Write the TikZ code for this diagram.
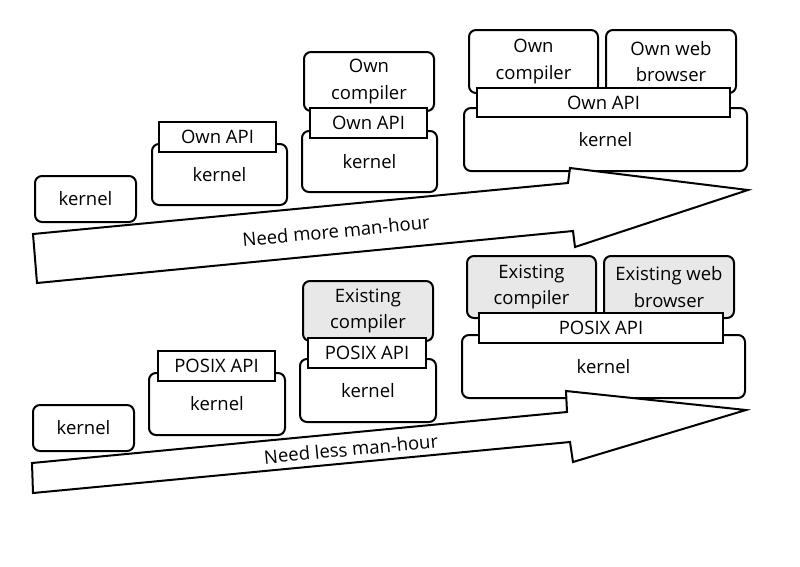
\documentclass[tikz,border=0pt]{standalone}
\usepackage{fontspec}
\setmainfont{Open Sans}
\usetikzlibrary{calc}
\newcommand\fsz{\fontsize{18.5}{26.5}\selectfont}
\begin{document}
\begin{tikzpicture}[x=1pt,y=-1pt,line width=2pt,
  box/.style={draw, rounded corners=7pt, fill=white, inner sep=0pt, align=center, font=\fsz, anchor=north west},
  gbox/.style={box, fill=black!9},
  api/.style={draw, fill=white, inner sep=0pt, font=\fsz, anchor=north west},
  bigarrow/.style={draw, fill=white, line join=miter},
  arrowtext/.style={font=\fsz, rotate=5.4}]
\useasboundingbox (0,0) rectangle (800,566);
% ---------- top row ----------
\node[box, minimum width=101pt, minimum height=46pt] (k1) at (34,175) {kernel};
\node[box, minimum width=135pt, minimum height=61pt] (k2) at (151,143) {kernel};
\node[api, minimum width=117pt, minimum height=30pt] (a2) at (158,121) {Own API};
\node[box, minimum width=135pt, minimum height=61pt] (k3) at (301,130) {kernel};
\node[box, minimum width=130pt, minimum height=59pt] (c3) at (303,51) {Own\\compiler};
\node[api, minimum width=117pt, minimum height=30pt] (a3) at (309,107) {Own API};
\node[box, minimum width=283pt, minimum height=63pt] (k4) at (463,107) {kernel};
\node[box, minimum width=129pt, minimum height=63pt] (c4) at (468,29) {Own\\compiler};
\node[box, minimum width=130pt, minimum height=63pt] (b4) at (605,29) {Own web\\browser};
\node[api, minimum width=253pt, minimum height=29pt] (a4) at (476,87) {Own API};
\draw[bigarrow] (33,234) -- (568,183) -- (570,168) -- (748,190) -- (575,247) -- (573,231) -- (37,283) -- cycle;
\node[arrowtext] (t1) at (336,231) {Need more man-hour};
% ---------- bottom row ----------
\node[box, minimum width=101pt, minimum height=46pt] (k5) at (32,404) {kernel};
\node[box, minimum width=136pt, minimum height=62pt] (k6) at (148,372) {kernel};
\node[api, minimum width=117pt, minimum height=30pt] (a6) at (157,350) {POSIX API};
\node[box, minimum width=136pt, minimum height=63pt] (k7) at (299,358) {kernel};
\node[gbox, minimum width=130pt, minimum height=60pt] (c7) at (302,280) {Existing\\compiler};
\node[api, minimum width=118pt, minimum height=30pt] (a7) at (307,337) {POSIX API};
\node[box, minimum width=283pt, minimum height=63pt] (k8) at (461,334) {kernel};
\node[gbox, minimum width=129pt, minimum height=62pt] (c8) at (466,255) {Existing\\compiler};
\node[gbox, minimum width=130pt, minimum height=62pt] (b8) at (603,255) {Existing web\\browser};
\node[api, minimum width=244pt, minimum height=30pt] (a8) at (478,312) {POSIX API};
\draw[bigarrow] (32,463) -- (567,412) -- (566,391) -- (746,410) -- (573,462) -- (570,442) -- (33,493) -- cycle;
\node[arrowtext] (t2) at (351,449) {Need less man-hour};
\end{tikzpicture}
\end{document}
